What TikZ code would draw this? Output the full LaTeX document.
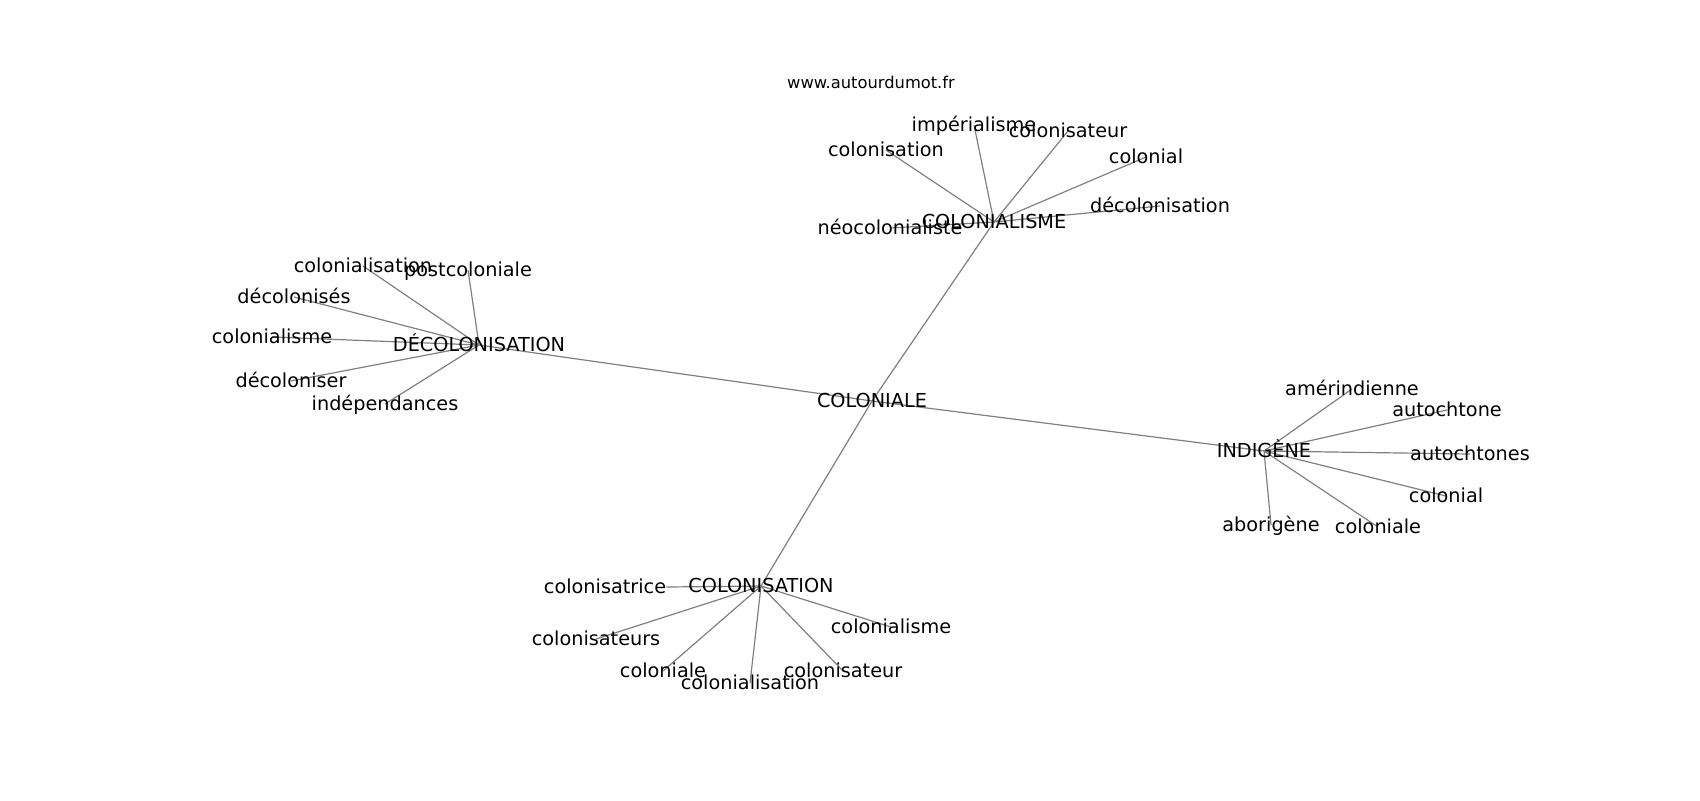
\documentclass[tikz,border=0pt]{standalone}
\usepackage{fontspec}
\setmainfont{DejaVu Sans}
\usetikzlibrary{backgrounds}
\definecolor{edgegray}{RGB}{128,128,128}
\begin{document}
\begin{tikzpicture}[x=0.5pt,y=-0.5pt,
  word/.style={font=\fontsize{9.63pt}{11pt}\selectfont, inner sep=0pt, text height=0.9em, text depth=0.26em},
  urltext/.style={font=\fontsize{8.15pt}{10pt}\selectfont, inner sep=0pt, anchor=base},
  link/.style={draw=edgegray, line width=0.6pt}]
\useasboundingbox (0,0) rectangle (1700,800);
\node[urltext] (url) at (871,88) {www.autourdumot.fr};
% hubs
\node[word] (center) at (872,401) {COLONIALE};
\node[word] (hA) at (994,222) {COLONIALISME};
\node[word] (hB) at (479,345) {DÉCOLONISATION};
\node[word] (hC) at (1264,451) {INDIGÈNE};
\node[word] (hD) at (761,586) {COLONISATION};
% COLONIALISME group
\node[word] (a1) at (974,125) {impérialisme};
\node[word] (a2) at (1068,131) {colonisateur};
\node[word] (a3) at (886,150) {colonisation};
\node[word] (a4) at (1146,157) {colonial};
\node[word] (a5) at (1160,206) {décolonisation};
\node[word] (a6) at (890,228) {néocolonialiste};
% DÉCOLONISATION group
\node[word] (b1) at (363,266) {colonialisation};
\node[word] (b2) at (468,270) {postcoloniale};
\node[word] (b3) at (294,297) {décolonisés};
\node[word] (b4) at (272,337) {colonialisme};
\node[word] (b5) at (291,381) {décoloniser};
\node[word] (b6) at (385,404) {indépendances};
% INDIGÈNE group
\node[word] (c1) at (1352,389) {amérindienne};
\node[word] (c2) at (1447,410) {autochtone};
\node[word] (c3) at (1470,454) {autochtones};
\node[word] (c4) at (1446,496) {colonial};
\node[word] (c5) at (1271,525) {aborigène};
\node[word] (c6) at (1378,527) {coloniale};
% COLONISATION group
\node[word] (d1) at (605,587) {colonisatrice};
\node[word] (d2) at (596,639) {colonisateurs};
\node[word] (d3) at (663,671) {coloniale};
\node[word] (d4) at (750,683) {colonialisation};
\node[word] (d5) at (843,671) {colonisateur};
\node[word] (d6) at (891,627) {colonialisme};
\begin{scope}[on background layer]
\fill[white] (0,0) rectangle (1700,800);
\foreach \h in {hA,hB,hC,hD} \draw[link] (center.center) -- (\h.center);
\foreach \n in {a1,a2,a3,a4,a5,a6} \draw[link] (hA.center) -- (\n.center);
\foreach \n in {b1,b2,b3,b4,b5,b6} \draw[link] (hB.center) -- (\n.center);
\foreach \n in {c1,c2,c3,c4,c5,c6} \draw[link] (hC.center) -- (\n.center);
\draw[link] (hD.center) -- (d1.east);
\foreach \n in {d2,d3,d4,d5,d6} \draw[link] (hD.center) -- (\n.center);
\end{scope}
\end{tikzpicture}
\end{document}
